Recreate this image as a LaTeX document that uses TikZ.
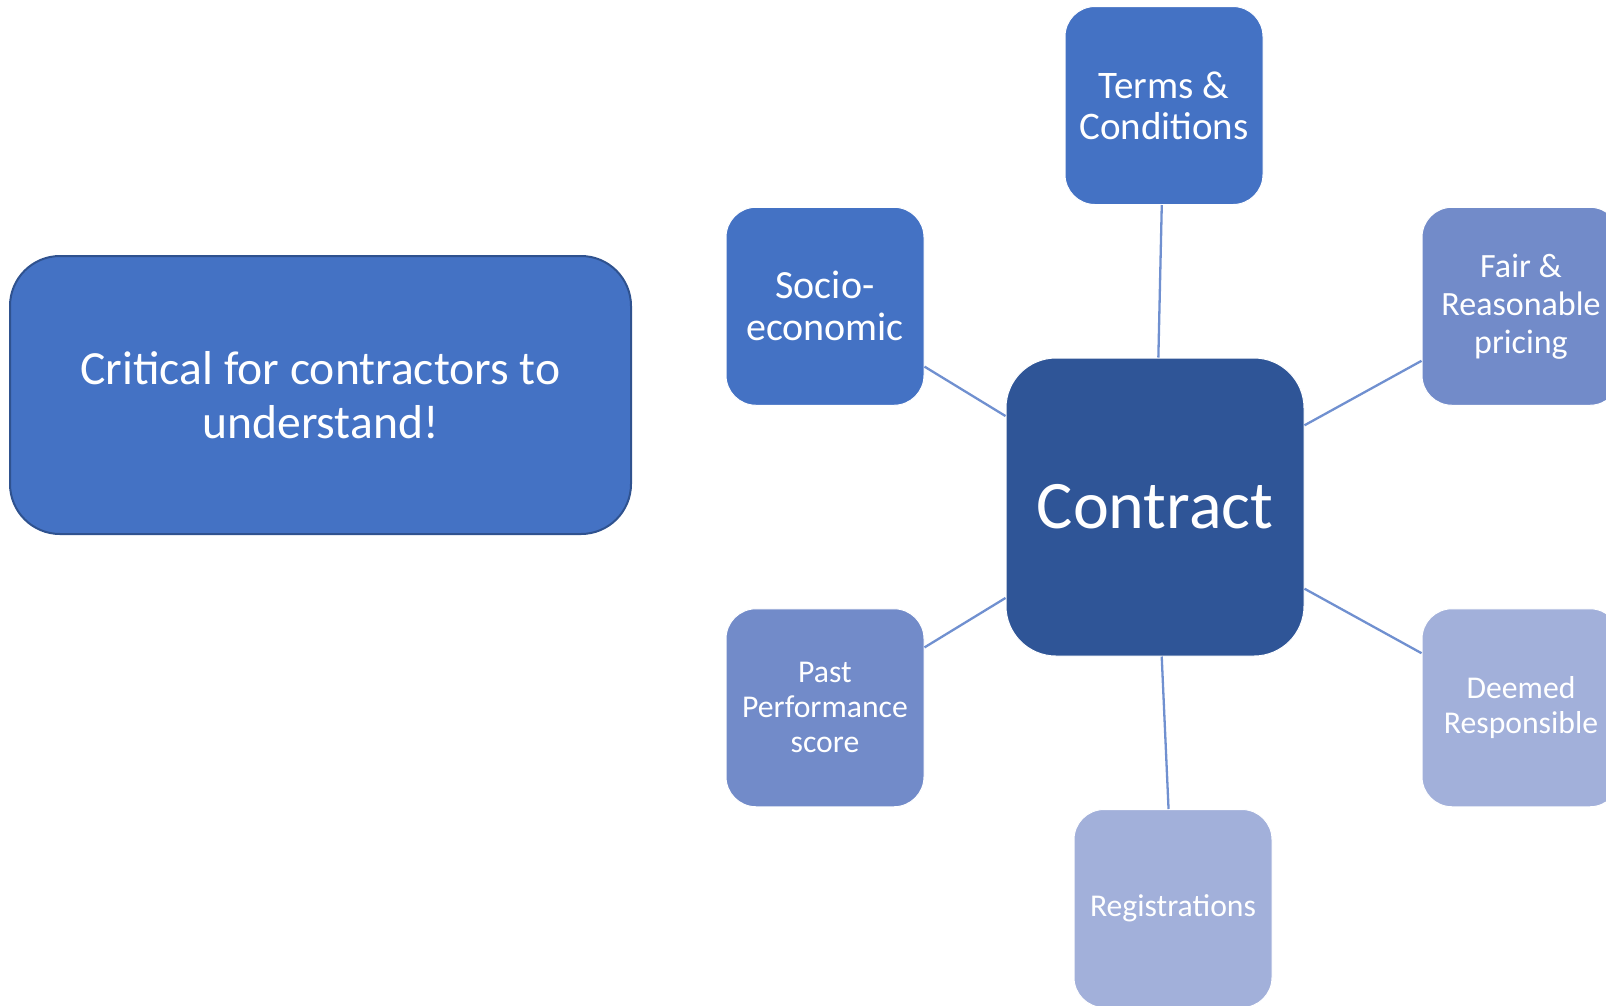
\documentclass[tikz,border=0pt]{standalone}
\usepackage{fontspec}
\setmainfont{Carlito}
\usepackage{tikz}
\usetikzlibrary{matrix}
\definecolor{accentA}{HTML}{4472C4}
\definecolor{accentDark}{HTML}{2F5597}
\definecolor{accentEdge}{HTML}{2F528F}
\definecolor{accentMid}{HTML}{728BC9}
\definecolor{accentLight}{HTML}{A2B0DA}
\definecolor{linkBlue}{HTML}{7090D0}
\newcommand{\fs}[2]{\fontsize{#1}{#2}\selectfont}

\begin{document}
\begin{tikzpicture}[x=1pt,y=-1pt,
  box/.style={rounded corners=30pt,draw=white,line width=1pt,text=white,align=center,
    minimum width=198pt,minimum height=198pt,inner sep=0pt,anchor=center},
  link/.style={draw=linkBlue,line width=2.3pt}]
\clip (0,0) rectangle (1606,1005);
\node (crit) [rounded corners=50pt,fill=accentA,draw=accentEdge,line width=2pt,text=white,
  align=center,minimum width=621pt,minimum height=278pt,font=\fs{47.6}{54}]
  at (320.5,395) {Critical for contractors to\\understand!};
\matrix (m) [column sep={330pt,between origins},row sep={200.75pt,between origins},
  matrix anchor=contract.center,ampersand replacement=\&] at (1155,507)
{
  \& \node (terms) [box,fill=accentA,xshift=9pt,font=\fs{39}{41}] {Terms \char38\\Conditions}; \& \\
  \node (socio) [box,fill=accentA,font=\fs{40}{42}] {Socio-\\economic}; \& \&
  \node (fair) [box,fill=accentMid,xshift=36pt,font=\fs{34}{38}] {Fair \char38\\Reasonable\\pricing}; \\
  \& \node (contract) [box,fill=accentDark,rounded corners=50pt,minimum width=298pt,
    minimum height=298pt,font=\fs{68}{70}] {Contract}; \& \\
  \node (past) [box,fill=accentMid,font=\fs{31.7}{35}] {Past\\Performance\\score}; \& \&
  \node (deemed) [box,fill=accentLight,xshift=36pt,font=\fs{31.7}{35}] {Deemed\\Responsible}; \\
  \& \node (reg) [box,fill=accentLight,xshift=18pt,font=\fs{31.7}{35}] {Registrations}; \& \\
};
\path[link]
  (contract) edge (terms)
  (contract) edge (socio)
  (contract) edge (fair)
  (contract) edge (past)
  (contract) edge (deemed)
  (contract) edge (reg);
\end{tikzpicture}
\end{document}
